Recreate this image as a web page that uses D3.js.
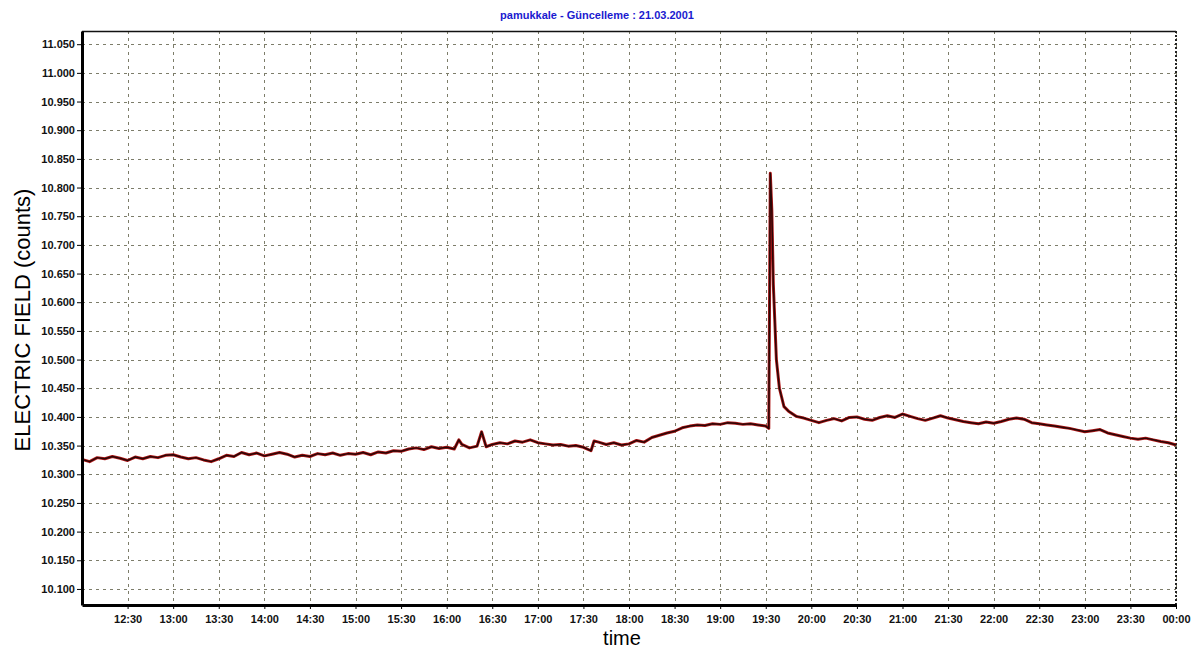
<!DOCTYPE html>
<html>
<head>
<meta charset="utf-8">
<script src="https://cdn.jsdelivr.net/npm/d3@7"></script>
<style>
  body { margin: 0; background: #fff; }
  svg { display: block; font-family: Arial, "Liberation Sans", sans-serif; }
</style>
</head>
<body>
<div id="chart"></div>
<script>
// pamukkale electric field record, 21.03.2001
var chartTitle = "pamukkale - Güncelleme : 21.03.2001";

var times = [
  "12:00","12:05","12:10","12:15","12:20","12:25","12:30","12:35","12:40","12:45","12:50","12:55",
  "13:00","13:05","13:10","13:15","13:20","13:25","13:30","13:35","13:40","13:45","13:50","13:55",
  "14:00","14:05","14:10","14:15","14:20","14:25","14:30","14:35","14:40","14:45","14:50","14:55",
  "15:00","15:05","15:10","15:15","15:20","15:25","15:30","15:35","15:40","15:45","15:50","15:55",
  "16:00","16:05","16:08","16:10","16:15","16:20","16:23","16:26","16:30","16:35","16:40","16:45","16:50","16:55",
  "17:00","17:05","17:10","17:15","17:20","17:25","17:30","17:35","17:37","17:40","17:45","17:50","17:55",
  "18:00","18:05","18:10","18:15","18:20","18:25","18:30","18:35","18:40","18:45","18:50","18:55",
  "19:00","19:05","19:10","19:15","19:20","19:25","19:30","19:32","19:33","19:34","19:35","19:37","19:39","19:42","19:45","19:50","19:55",
  "20:00","20:05","20:10","20:15","20:20","20:25","20:30","20:35","20:40","20:45","20:50","20:55",
  "21:00","21:05","21:10","21:15","21:20","21:25","21:30","21:35","21:40","21:45","21:50","21:55",
  "22:00","22:05","22:10","22:15","22:20","22:25","22:30","22:35","22:40","22:45","22:50","22:55",
  "23:00","23:05","23:10","23:15","23:20","23:25","23:30","23:35","23:40","23:45","23:50","23:55",
  "24:00"
];

var values = [
  10.326,10.322,10.329,10.327,10.331,10.328,10.324,10.330,10.327,10.331,10.329,10.333,
  10.334,10.330,10.327,10.329,10.325,10.322,10.327,10.333,10.331,10.338,10.334,10.337,
  10.332,10.335,10.338,10.335,10.330,10.333,10.331,10.336,10.334,10.337,10.333,10.336,
  10.335,10.338,10.334,10.339,10.337,10.341,10.340,10.344,10.346,10.343,10.348,10.345,
  10.347,10.344,10.360,10.352,10.346,10.349,10.374,10.348,10.352,10.355,10.353,10.358,10.356,10.360,
  10.355,10.353,10.351,10.352,10.349,10.350,10.347,10.341,10.358,10.356,10.352,10.355,10.351,
  10.353,10.359,10.356,10.364,10.368,10.372,10.375,10.381,10.384,10.386,10.385,10.388,
  10.387,10.390,10.389,10.387,10.388,10.386,10.384,10.380,10.825,10.760,10.630,10.500,10.450,10.418,10.410,10.401,10.398,
  10.394,10.390,10.394,10.397,10.393,10.399,10.400,10.396,10.394,10.399,10.402,10.399,
  10.405,10.401,10.397,10.394,10.398,10.402,10.398,10.395,10.392,10.390,10.388,10.391,
  10.389,10.392,10.396,10.398,10.396,10.390,10.388,10.386,10.384,10.382,10.380,10.377,
  10.374,10.376,10.378,10.372,10.369,10.366,10.363,10.361,10.363,10.360,10.357,10.355,
  10.351
];

var yTicks = [10.100,10.150,10.200,10.250,10.300,10.350,10.400,10.450,10.500,10.550,10.600,
              10.650,10.700,10.750,10.800,10.850,10.900,10.950,11.000,11.050];

var width = 1198, height = 648;
var margin = {top: 31, right: 22, bottom: 43, left: 82};

var svg = d3.select("#chart").append("svg")
    .attr("width", width)
    .attr("height", height);

var parseT = function(s) {
    var p = s.split(":");
    return new Date(2001, 2, 21, +p[0], +p[1]);
};

var data = times.map(function(t, i) { return {t: parseT(t), v: values[i]}; });

var x = d3.scaleTime()
    .domain([new Date(2001, 2, 21, 12, 0), new Date(2001, 2, 22, 0, 0)])
    .range([margin.left, width - margin.right]);

var y = d3.scaleLinear()
    .domain([10.072, 11.073])
    .range([height - margin.bottom, margin.top]);

var xTicks = x.ticks(d3.timeMinute.every(30)).filter(function(d) { return +d > +x.domain()[0]; });

// grid
var grid = svg.append("g").attr("stroke", "#7d7d6a").attr("stroke-dasharray", "3,4").attr("stroke-width", 1);
grid.selectAll(".gx").data(xTicks).enter().append("line")
    .attr("x1", function(d) { return Math.round(x(d)) + 0.5; })
    .attr("x2", function(d) { return Math.round(x(d)) + 0.5; })
    .attr("y1", margin.top)
    .attr("y2", height - margin.bottom);
grid.selectAll(".gy").data(yTicks).enter().append("line")
    .attr("x1", margin.left)
    .attr("x2", width - margin.right)
    .attr("y1", function(d) { return Math.round(y(d)) + 0.5; })
    .attr("y2", function(d) { return Math.round(y(d)) + 0.5; });

// top and right frame
svg.append("line")
    .attr("x1", margin.left).attr("x2", width - margin.right)
    .attr("y1", margin.top + 0.5).attr("y2", margin.top + 0.5)
    .attr("stroke", "#111").attr("stroke-width", 1.5);
svg.append("line")
    .attr("x1", width - margin.right).attr("x2", width - margin.right)
    .attr("y1", margin.top).attr("y2", height - margin.bottom)
    .attr("stroke", "#222").attr("stroke-width", 2).attr("stroke-dasharray", "2,2");

// the trace
var line = d3.line()
    .x(function(d) { return x(d.t); })
    .y(function(d) { return y(d.v); });

svg.append("path").datum(data)
    .attr("fill", "none")
    .attr("stroke", "#b01818")
    .attr("stroke-width", 3)
    .attr("stroke-linejoin", "round")
    .attr("d", line);
svg.append("path").datum(data)
    .attr("fill", "none")
    .attr("stroke", "#2a0606")
    .attr("stroke-width", 1.5)
    .attr("stroke-linejoin", "round")
    .attr("d", line);

// axes
var xAxis = svg.append("g")
    .attr("transform", "translate(0," + (height - margin.bottom) + ")")
    .call(d3.axisBottom(x).tickValues(xTicks).tickFormat(d3.timeFormat("%H:%M")).tickSize(4).tickSizeOuter(0));
var yAxis = svg.append("g")
    .attr("transform", "translate(" + margin.left + ",0)")
    .call(d3.axisLeft(y).tickValues(yTicks).tickFormat(d3.format(".3f")).tickSize(5).tickSizeOuter(0));

[xAxis, yAxis].forEach(function(a) {
    a.select(".domain").attr("stroke", "#000").attr("stroke-width", 3);
    a.selectAll(".tick line").attr("stroke", "#000");
    a.selectAll("text")
        .attr("fill", "#111")
        .style("font-size", "11px")
        .style("font-weight", "bold");
});
xAxis.selectAll("text").attr("dy", "1.0em");
yAxis.selectAll("text").attr("x", -7);

// titles
svg.append("text")
    .attr("x", 597).attr("y", 19)
    .attr("text-anchor", "middle")
    .attr("fill", "#1a1ad0")
    .style("font-size", "11px")
    .style("font-weight", "bold")
    .text(chartTitle);

svg.append("text")
    .attr("x", 622).attr("y", 645)
    .attr("text-anchor", "middle")
    .attr("fill", "#000")
    .style("font-size", "20px")
    .text("time");

svg.append("text")
    .attr("transform", "translate(30,320) rotate(-90)")
    .attr("text-anchor", "middle")
    .attr("fill", "#000")
    .style("font-size", "22px")
    .text("ELECTRIC FIELD (counts)");
</script>
</body>
</html>
